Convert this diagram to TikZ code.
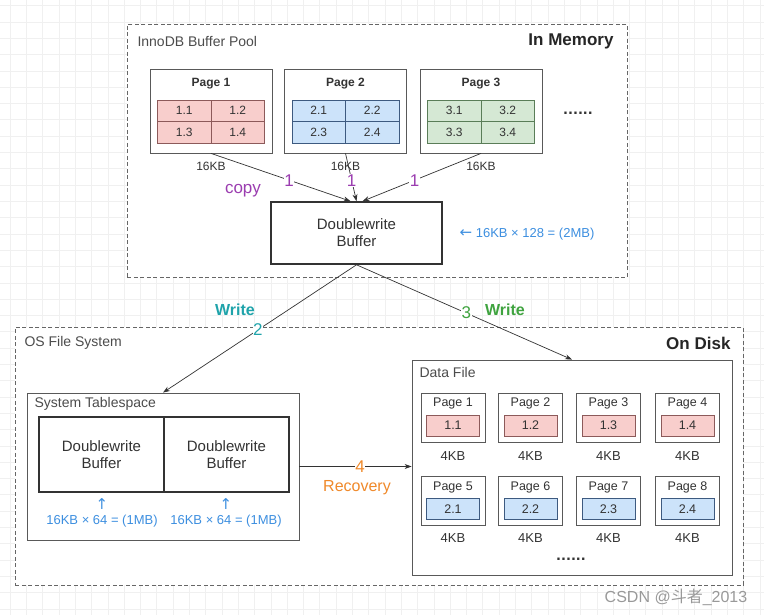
\documentclass[tikz,border=0pt]{standalone}
\usepackage{fontspec}
\setmainfont{Liberation Sans}
\newfontfamily\cjkfont{Noto Sans CJK SC}
\newfontfamily\symfont{DejaVu Sans}
\usepackage{tikz}
\usetikzlibrary{arrows.meta, positioning, calc}
\definecolor{inkc}{HTML}{333333}
\definecolor{pinkfill}{HTML}{F8CECC}
\definecolor{pinkline}{HTML}{8C5A5A}
\definecolor{bluefill}{HTML}{CCE3FA}
\definecolor{blueline}{HTML}{3D5A80}
\definecolor{greenfill}{HTML}{D5E8D4}
\definecolor{greenline}{HTML}{5A7D58}
\definecolor{copyc}{HTML}{9B3DB0}
\definecolor{tealc}{HTML}{1FA3AA}
\definecolor{writec}{HTML}{3FA33F}
\definecolor{recc}{HTML}{F0892A}
\definecolor{sizec}{HTML}{3D8FE0}

\begin{document}
\begin{tikzpicture}[
    x=1pt, y=-1pt,
    every node/.style={font=\fontsize{12}{14}\selectfont, text=inkc},
    gridln/.style={draw=black!6, line width=0.6pt},
    zone/.style={draw=black!60, fill=white, dash pattern=on 4pt off 2.5pt, line width=0.8pt, inner sep=0pt},
    box/.style={draw=black!65, fill=white, line width=0.8pt, inner sep=0pt},
    dwbuf/.style={draw=inkc, fill=white, line width=1.6pt, align=center, inner sep=0pt, font=\fontsize{15}{17}\selectfont},
    cell/.style={draw=#1line, fill=#1fill, line width=0.8pt, minimum width=53.5pt, minimum height=21.5pt, inner sep=0pt},
    lbl/.style={anchor=west, text=black!70, font=\fontsize{14}{16}\selectfont},
    zonetitle/.style={anchor=east, text=black!85, font=\bfseries\fontsize{17}{19}\selectfont},
    numlbl/.style={fill=white, inner sep=0.5pt, font=\fontsize{17}{19}\selectfont},
    actlbl/.style={font=\bfseries\fontsize{16}{18}\selectfont},
    sizelbl/.style={text=sizec, font=\fontsize{13}{15}\selectfont},
    dots/.style={font=\symfont\bfseries\fontsize{13}{15}\selectfont},
    arr/.style={-{Stealth[length=7pt, width=5pt]}, draw=inkc, line width=0.7pt}
]
\useasboundingbox (0,0) rectangle (764,615);
% faint background grid
\foreach \i in {0,...,46}
    \draw[gridln] (10+16.3*\i,0) -- (10+16.3*\i,615);
\foreach \j in {0,...,37}
    \draw[gridln] (0,5.7+16.3*\j) -- (764,5.7+16.3*\j);

% In Memory
\node[zone, anchor=north west, minimum width=500pt, minimum height=253pt] (mem) at (127,24) {};
\node[lbl] (memlbl) at (134,41) {InnoDB Buffer Pool};
\node[zonetitle] (memtitle) at (617,41) {In Memory};
\foreach \n/\x/\c in {1/211/pink, 2/345.5/blue, 3/481/green}{
    \node[box, minimum width=122pt, minimum height=84pt] (p\n) at (\x,111) {};
    \node[font=\bfseries\fontsize{12}{14}\selectfont] (pl\n) at (\x,84) {Page \n};
    \node[cell=\c] (c\n1) at (\x-26.75,110.75) {\n.1};
    \node[cell=\c] (c\n2) at (\x+26.75,110.75) {\n.2};
    \node[cell=\c] (c\n3) at (\x-26.75,132.25) {\n.3};
    \node[cell=\c] (c\n4) at (\x+26.75,132.25) {\n.4};
    \node (pk\n) at (\x,166) {16KB};
}
\node[dots] (moretop) at (578,113) {......};
\node[dwbuf, minimum width=171pt, minimum height=62pt] (db) at (356.5,233) {Doublewrite\\Buffer};
\node[sizelbl] (dbsize) at (527,234) {{\symfont\fontsize{15}{15}\selectfont ←} 16KB × 128 = (2MB)};
% copy
\draw[arr] (p1.south) -- ([xshift=-6pt]db.north) node[numlbl, text=copyc, pos=0.56] (n1a) {1};
\draw[arr] (p2.south) -- (db.north) node[numlbl, text=copyc, pos=0.56] (n1b) {1};
\draw[arr] (p3.south) -- ([xshift=6pt]db.north) node[numlbl, text=copyc, pos=0.56] (n1c) {1};
\node[text=copyc, font=\fontsize{17}{19}\selectfont] (copy) at (243,191) {copy};

% On Disk
\node[zone, anchor=north west, minimum width=728pt, minimum height=258pt] (disk) at (15,327) {};
\node[lbl] (disklbl) at (21,343) {OS File System};
\node[zonetitle] (disktitle) at (734,343) {On Disk};

\node[box, minimum width=272pt, minimum height=147pt] (st) at (163,466.5) {};
\node[lbl] (stlbl) at (31,404) {System Tablespace};
\node[dwbuf, minimum width=125pt, minimum height=75pt] (dw1) at (101.5,454.5) {Doublewrite\\Buffer};
\node[dwbuf, minimum width=125pt, minimum height=75pt] (dw2) at (226.5,454.5) {Doublewrite\\Buffer};
\foreach \k/\x in {1/102, 2/226}{
    \node[sizelbl, font=\symfont\fontsize{15}{15}\selectfont] (up\k) at (\x,504) {↑};
    \node[sizelbl] (sz\k) at (\x,521) {16KB × 64 = (1MB)};
}

\node[box, minimum width=320pt, minimum height=215pt] (df) at (572,467.5) {};
\node[lbl] (dflbl) at (416,372) {Data File};
\foreach \c/\x in {1/453, 2/530.5, 3/608.5, 4/687.5}{
    \pgfmathtruncatemacro\m{\c+4}
    % upper row
    \node[box, minimum width=64pt, minimum height=49pt] (d\c) at (\x,417.5) {};
    \node[font=\fontsize{12.5}{14}\selectfont] (dl\c) at (\x,403) {Page \c};
    \node[cell=pink, minimum width=53pt, minimum height=21pt, font=\fontsize{12.5}{14}\selectfont] (dc\c) at (\x,425.5) {1.\c};
    \node[font=\fontsize{13}{15}\selectfont] (dk\c) at (\x,456) {4KB};
    % lower row
    \node[box, minimum width=64pt, minimum height=49pt] (d\m) at (\x,500.5) {};
    \node[font=\fontsize{12.5}{14}\selectfont] (dl\m) at (\x,487) {Page \m};
    \node[cell=blue, minimum width=53pt, minimum height=21pt, font=\fontsize{12.5}{14}\selectfont] (dc\m) at (\x,509) {2.\c};
    \node[font=\fontsize{13}{15}\selectfont] (dk\m) at (\x,538) {4KB};
}
\node[dots] (morebot) at (571,559) {......};

% write and recovery
\draw[arr] (db.south) -- (st.north) node[numlbl, text=tealc, pos=0.51] (n2) {2};
\node[actlbl, text=tealc] (w2) at (235,310) {Write};
\draw[arr] (db.south) -- (df.north) node[numlbl, text=writec, pos=0.51] (n3) {3};
\node[actlbl, text=writec] (w3) at (505,310) {Write};
\draw[arr] (st.east) -- (st.east -| df.west) node[numlbl, text=recc, pos=0.54] (n4) {4};
\node[text=recc, font=\fontsize{16}{18}\selectfont] (rec) at (357,488) {Recovery};

\node[text=black!40, font=\fontsize{16}{18}\selectfont] (wm) at (676,597) {CSDN @{\cjkfont 斗者}\_2013};
\end{tikzpicture}
\end{document}
